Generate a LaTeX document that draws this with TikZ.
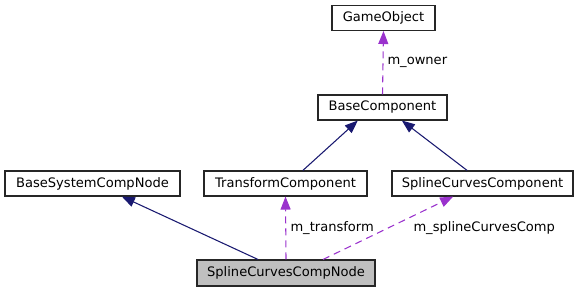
\documentclass[tikz,border=0pt]{standalone}
\usepackage{fontspec}
\setmainfont{DejaVu Sans}
\usetikzlibrary{arrows.meta}
\definecolor{inhcol}{RGB}{25,25,112}
\definecolor{usecol}{RGB}{154,50,205}
\definecolor{curfill}{RGB}{191,191,191}
\tikzset{every picture/.style={line width=0.75pt}}

\begin{document}
\begin{tikzpicture}[x=0.75pt,y=0.75pt,yscale=-1,xscale=1,
  classbox/.style={draw=black!85, line width=0.8pt, rectangle, minimum height=18.75pt,
    inner sep=0pt, font=\fontsize{9.8}{11.6}\selectfont},
  inherit/.style={draw=inhcol, line width=0.8pt,
    -{Triangle[length=9.75pt,width=7.5pt]}},
  member/.style={draw=usecol, line width=0.8pt, dash pattern=on 5.25pt off 3.75pt,
    -{Triangle[length=9.75pt,width=7.5pt]}},
  memberlabel/.style={anchor=west, inner sep=0pt, font=\fontsize{9.8}{11.6}\selectfont}]
\useasboundingbox (0,0) rectangle (580,292);

%Shape: Rectangles (classes)
\node [classbox, minimum width=77.25pt] (gobj) at (383.5,18) {GameObject};
\node [classbox, minimum width=96.75pt] (bcomp) at (382.5,107.5) {BaseComponent};
\node [classbox, minimum width=131.25pt] (bsnode) at (92.5,183.5) {BaseSystemCompNode};
\node [classbox, minimum width=122.25pt] (tcomp) at (285.5,183.5) {TransformComponent};
\node [classbox, minimum width=135.75pt] (sccomp) at (482.5,183.5) {SplineCurvesComponent};
\node [classbox, fill=curfill, minimum width=133.5pt, minimum height=19.5pt] (scnode) at (286,273) {SplineCurvesCompNode};

%Straight Lines (inheritance)
\draw [inherit] ([xshift=-21pt]scnode.north) -- ([xshift=22pt]bsnode.south);
\draw [inherit] ([xshift=13pt]tcomp.north) -- ([xshift=-18.5pt]bcomp.south);
\draw [inherit] ([xshift=-11.5pt]sccomp.north) -- ([xshift=14.5pt]bcomp.south);

%Straight Lines (members)
\draw [member] (bcomp.north) -- (gobj.south);
\draw [member] (scnode.north) -- (tcomp.south);
\draw [member] ([xshift=27.75pt]scnode.north) -- ([xshift=-22pt]sccomp.south);

% Text Node
\node [memberlabel] (lowner) at (387,62) {m\_owner};
% Text Node
\node [memberlabel] (ltrans) at (290,228) {m\_transform};
% Text Node
\node [memberlabel] (lspline) at (413,228) {m\_splineCurvesComp};

\end{tikzpicture}
\end{document}
